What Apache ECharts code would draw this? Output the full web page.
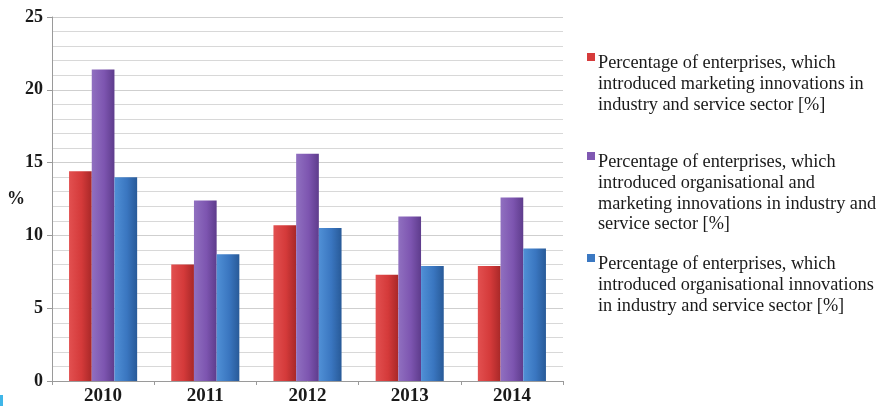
<!DOCTYPE html>
<html>
<head>
<meta charset="utf-8">
<script src="https://cdn.jsdelivr.net/npm/echarts@6/dist/echarts.min.js"></script>
<style>
  html, body { margin: 0; padding: 0; background: #ffffff; }
  #chart { width: 885px; height: 406px; }
</style>
</head>
<body>
<div id="chart"></div>
<script>
// Survey years
const years = ['2010', '2011', '2012', '2013', '2014'];

// Share of enterprises that introduced each type of innovation [%]
const marketing = [14.4, 8.0, 10.7, 7.3, 7.9];
const orgAndMarketing = [21.4, 12.4, 15.6, 11.3, 12.6];
const organisational = [14.0, 8.7, 10.5, 7.9, 9.1];

// Series names, with the wrapped lines used in the legend
const seriesNames = [
  'Percentage of enterprises, which introduced marketing innovations in industry and service sector [%]',
  'Percentage of enterprises, which introduced organisational and marketing innovations in industry and service sector [%]',
  'Percentage of enterprises, which introduced organisational innovations in industry and service sector [%]'
];
const legendLines = [
  ['Percentage of enterprises, which', 'introduced marketing innovations in', 'industry and service sector [%]'],
  ['Percentage of enterprises, which', 'introduced organisational and', 'marketing innovations in industry and', 'service sector [%]'],
  ['Percentage of enterprises, which', 'introduced organisational innovations', 'in industry and service sector [%]']
];

const baseColors = ['#d63b3b', '#7f58b2', '#3b78c2'];
const shades = [
  ['#e25050', '#d43a3a', '#a82828'],
  ['#9070c0', '#7d55b0', '#5e3c8c'],
  ['#5090d6', '#3a76c0', '#285a98']
];

function barFill(i) {
  return new echarts.graphic.LinearGradient(0, 0, 1, 0, [
    { offset: 0, color: shades[i][0] },
    { offset: 0.55, color: shades[i][1] },
    { offset: 1, color: shades[i][2] }
  ]);
}

const serif = '"Liberation Serif", "Times New Roman", serif';

function legendFor(i, top) {
  return {
    data: [seriesNames[i]],
    left: 582,
    top: top,
    padding: 0,
    icon: 'none',
    itemWidth: 0,
    itemHeight: 10,
    selectedMode: false,
    formatter: function () {
      return legendLines[i].map(function (line, k) {
        return (k === 0 ? '{sq' + i + '|}{gap|}' : '{pad|}') + '{t|' + line + '}';
      }).join('\n');
    },
    textStyle: {
      rich: {
        t: { fontFamily: serif, fontSize: 18.3, color: '#1a1a1a', lineHeight: 20.7 },
        pad: { width: 11 },
        gap: { width: 3 },
        sq0: { width: 8, height: 8, backgroundColor: baseColors[0], verticalAlign: 'top' },
        sq1: { width: 8, height: 8, backgroundColor: baseColors[1], verticalAlign: 'top' },
        sq2: { width: 8, height: 8, backgroundColor: baseColors[2], verticalAlign: 'top' }
      }
    }
  };
}

const seriesData = [marketing, orgAndMarketing, organisational];

const chart = echarts.init(document.getElementById('chart'), null, { renderer: 'canvas' });
chart.setOption({
  animation: false,
  backgroundColor: '#ffffff',
  grid: { left: 52, right: 322, top: 17, bottom: 24.5, containLabel: false },
  legend: [legendFor(0, 51), legendFor(1, 150), legendFor(2, 252)],
  xAxis: {
    type: 'category',
    data: years,
    axisLine: { lineStyle: { color: '#9a9a9a', width: 1 } },
    axisTick: { show: true, length: 4, lineStyle: { color: '#9a9a9a' } },
    axisLabel: { fontFamily: serif, fontWeight: 'bold', fontSize: 19, color: '#1a1a1a', margin: 6 }
  },
  yAxis: {
    type: 'value',
    min: 0,
    max: 25,
    interval: 5,
    name: '%',
    nameLocation: 'middle',
    nameRotate: 0,
    nameGap: 27,
    nameMoveOverlap: false,
    nameTextStyle: { fontFamily: serif, fontWeight: 'bold', fontSize: 18, color: '#1a1a1a' },
    axisLine: { show: true, lineStyle: { color: '#9a9a9a', width: 1 } },
    axisTick: { show: true, length: 5, lineStyle: { color: '#9a9a9a' } },
    axisLabel: { fontFamily: serif, fontWeight: 'bold', fontSize: 18, color: '#1a1a1a', margin: 9 },
    splitLine: { show: true, lineStyle: { color: '#cfcfcf', width: 1 } },
    minorTick: { show: false, splitNumber: 5 },
    minorSplitLine: { show: true, lineStyle: { color: '#d8d8d8', width: 1 } }
  },
  series: seriesData.map(function (vals, i) {
    return {
      name: seriesNames[i],
      type: 'bar',
      data: vals,
      barWidth: 22.7,
      barGap: '0%',
      itemStyle: { color: barFill(i) }
    };
  }),
  graphic: [{
    type: 'rect',
    left: 0,
    top: 395,
    shape: { width: 3, height: 11 },
    style: { fill: '#3fb6e8' }
  }]
});
</script>
</body>
</html>
